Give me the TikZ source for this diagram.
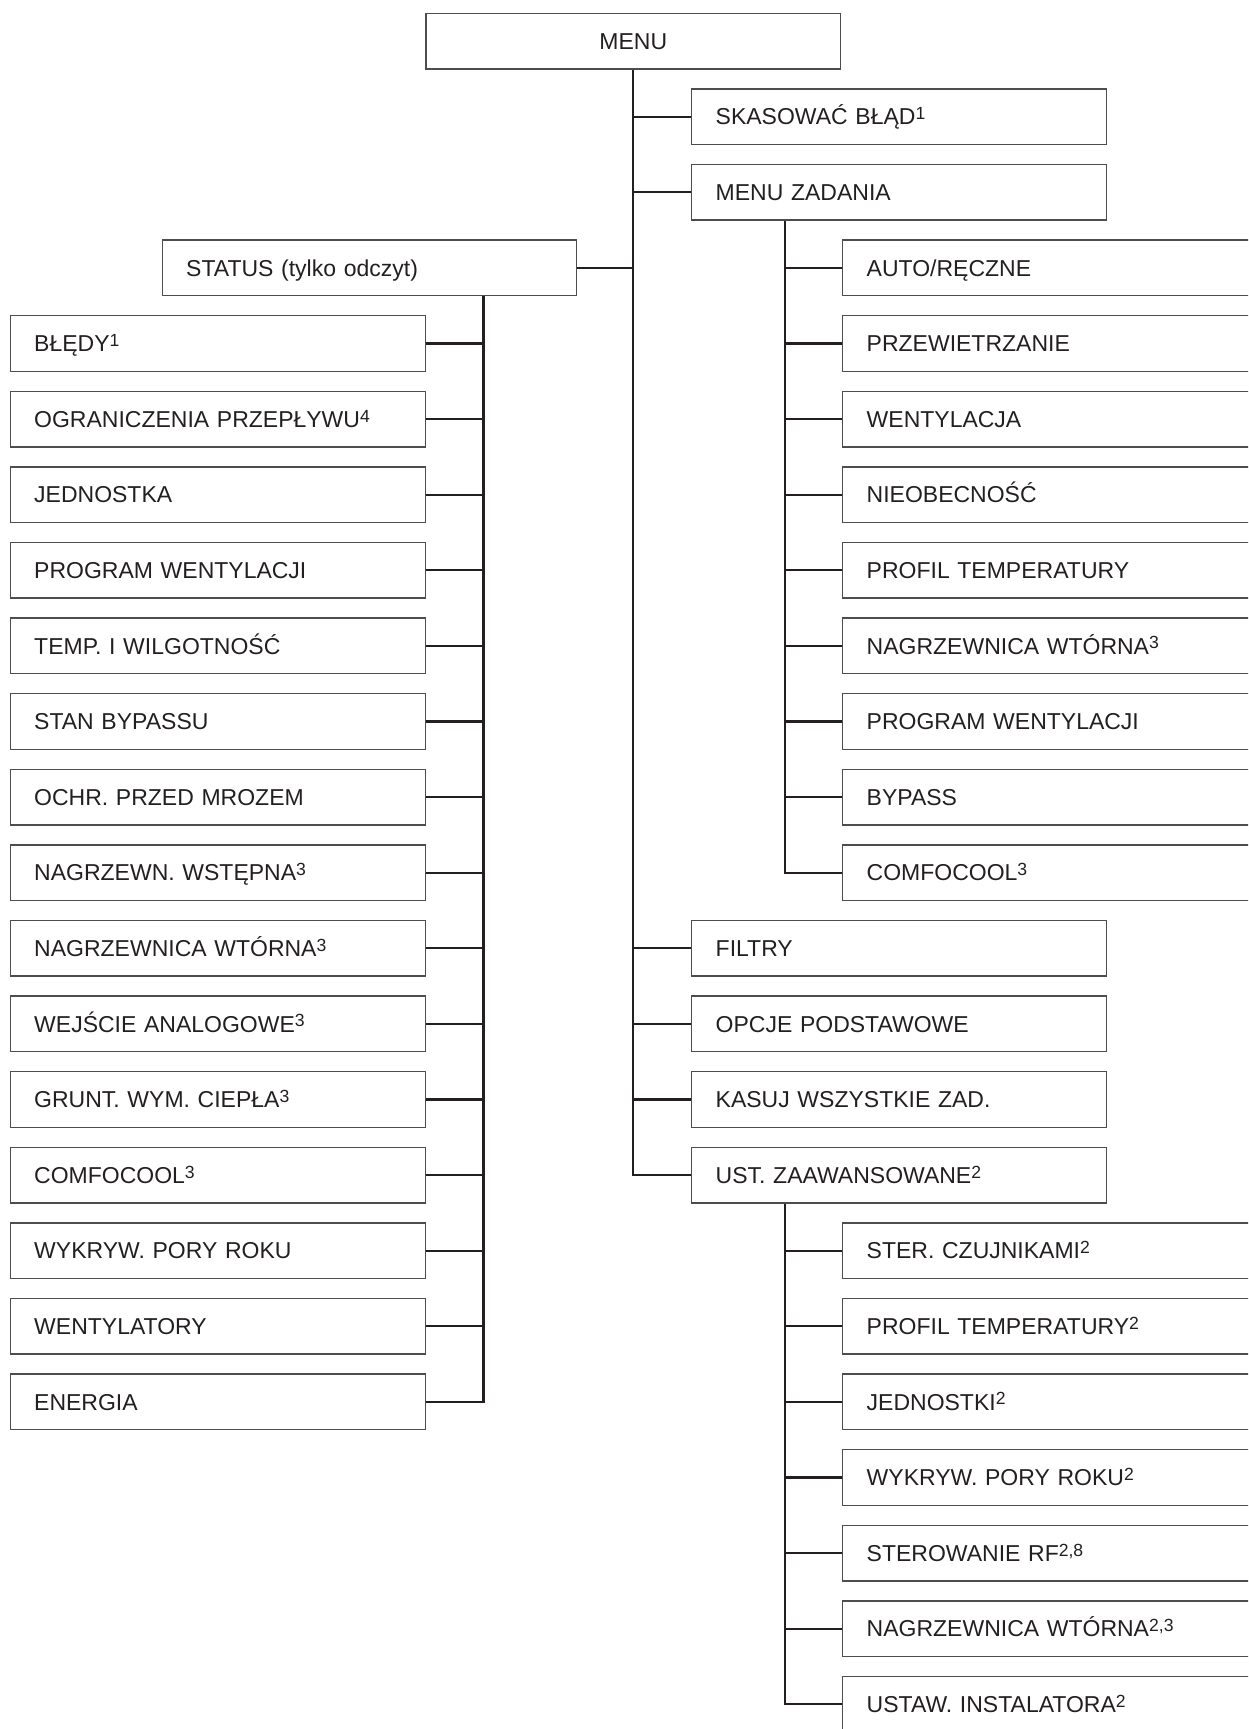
\documentclass[tikz,border=0pt]{standalone}
\usepackage{fontspec}
\setmainfont{Liberation Sans}
\definecolor{boxline}{HTML}{4D4D4F}
\definecolor{ink}{HTML}{231F20}
\newcommand{\fnote}[1]{\raisebox{2.6pt}{\fontsize{8.8}{9}\selectfont #1}}
\tikzset{
  item/.style={draw=boxline, line width=0.7pt, anchor=west, inner xsep=12pt, inner ysep=0pt,
    minimum height=27.75pt, text height=8.2pt, text depth=0pt, align=left, text=ink,
    font=\fontsize{11.5}{13}\selectfont},
  lbox/.style={item, text width=183.75pt},
  rbox/.style={item, text width=183.25pt},
  sbox/.style={item, text width=190pt},
  mbox/.style={item, anchor=center, align=center, text width=183.25pt},
  link/.style={draw=ink, line width=1.1pt}
}
\begin{document}
\begin{tikzpicture}[x=0.5pt,y=-0.5pt]
\useasboundingbox (0,0) rectangle (1248,1729);
\clip (0,0) rectangle (1248,1729);

\draw (633.25,41.1) node[mbox] (menu) {MENU};
\draw (691,116.7) node[rbox] (reset) {SKASOWAĆ BŁĄD\fnote{1}};
\draw (691,192.3) node[rbox] (zad) {MENU ZADANIA};
\draw (161.5,267.9) node[rbox] (status) {STATUS (tylko odczyt)};
\draw (691,948.3) node[rbox] (filtry) {FILTRY};
\draw (691,1023.9) node[rbox] (opcje) {OPCJE PODSTAWOWE};
\draw (691,1099.5) node[rbox] (kasuj) {KASUJ WSZYSTKIE ZAD.};
\draw (691,1175.1) node[rbox] (adv) {UST. ZAAWANSOWANE\fnote{2}};

% status
\draw (9.5,343.5) node[lbox] (bledy) {BŁĘDY\fnote{1}};
\draw (9.5,419.1) node[lbox] (ogran) {OGRANICZENIA PRZEPŁYWU\fnote{4}};
\draw (9.5,494.7) node[lbox] (jedn) {JEDNOSTKA};
\draw (9.5,570.3) node[lbox] (prog) {PROGRAM WENTYLACJI};
\draw (9.5,645.9) node[lbox] (temp) {TEMP. I WILGOTNOŚĆ};
\draw (9.5,721.5) node[lbox] (bypass) {STAN BYPASSU};
\draw (9.5,797.1) node[lbox] (mroz) {OCHR. PRZED MROZEM};
\draw (9.5,872.7) node[lbox] (wstep) {NAGRZEWN. WSTĘPNA\fnote{3}};
\draw (9.5,948.3) node[lbox] (wtor) {NAGRZEWNICA WTÓRNA\fnote{3}};
\draw (9.5,1023.9) node[lbox] (analog) {WEJŚCIE ANALOGOWE\fnote{3}};
\draw (9.5,1099.5) node[lbox] (grunt) {GRUNT. WYM. CIEPŁA\fnote{3}};
\draw (9.5,1175.1) node[lbox] (cool) {COMFOCOOL\fnote{3}};
\draw (9.5,1250.7) node[lbox] (pory) {WYKRYW. PORY ROKU};
\draw (9.5,1326.3) node[lbox] (went) {WENTYLATORY};
\draw (9.5,1401.9) node[lbox] (energia) {ENERGIA};

% menu zadania
\draw (842,267.9) node[sbox] (auto) {AUTO/RĘCZNE};
\draw (842,343.5) node[sbox] (przew) {PRZEWIETRZANIE};
\draw (842,419.1) node[sbox] (went2) {WENTYLACJA};
\draw (842,494.7) node[sbox] (nieob) {NIEOBECNOŚĆ};
\draw (842,570.3) node[sbox] (profil) {PROFIL TEMPERATURY};
\draw (842,645.9) node[sbox] (wtor2) {NAGRZEWNICA WTÓRNA\fnote{3}};
\draw (842,721.5) node[sbox] (prog2) {PROGRAM WENTYLACJI};
\draw (842,797.1) node[sbox] (bypass2) {BYPASS};
\draw (842,872.7) node[sbox] (cool2) {COMFOCOOL\fnote{3}};

% ust. zaawansowane
\draw (842,1250.7) node[sbox] (czuj) {STER. CZUJNIKAMI\fnote{2}};
\draw (842,1326.3) node[sbox] (profil3) {PROFIL TEMPERATURY\fnote{2}};
\draw (842,1401.9) node[sbox] (jedn3) {JEDNOSTKI\fnote{2}};
\draw (842,1477.5) node[sbox] (pory3) {WYKRYW. PORY ROKU\fnote{2}};
\draw (842,1553.1) node[sbox] (rf) {STEROWANIE RF\fnote{2,8}};
\draw (842,1628.7) node[sbox] (wtor3) {NAGRZEWNICA WTÓRNA\fnote{2,3}};
\draw (842,1704.3) node[sbox] (instal) {USTAW. INSTALATORA\fnote{2}};

\coordinate (lt) at ([xshift=-47pt]status.south east);
\coordinate (zt) at ([xshift=47pt]zad.south west);
\coordinate (ut) at ([xshift=47pt]adv.south west);

\draw[link] (menu.south) |- (adv.west);
\draw[link] (reset.west) -- (reset.west -| menu.south);
\draw[link] (zad.west) -- (zad.west -| menu.south);
\draw[link] (status.east) -- (status.east -| menu.south);
\draw[link] (filtry.west) -- (filtry.west -| menu.south);
\draw[link] (opcje.west) -- (opcje.west -| menu.south);
\draw[link] (kasuj.west) -- (kasuj.west -| menu.south);

\draw[link] (lt) |- (energia.east);
\draw[link] (bledy.east) -- (bledy.east -| lt);
\draw[link] (ogran.east) -- (ogran.east -| lt);
\draw[link] (jedn.east) -- (jedn.east -| lt);
\draw[link] (prog.east) -- (prog.east -| lt);
\draw[link] (temp.east) -- (temp.east -| lt);
\draw[link] (bypass.east) -- (bypass.east -| lt);
\draw[link] (mroz.east) -- (mroz.east -| lt);
\draw[link] (wstep.east) -- (wstep.east -| lt);
\draw[link] (wtor.east) -- (wtor.east -| lt);
\draw[link] (analog.east) -- (analog.east -| lt);
\draw[link] (grunt.east) -- (grunt.east -| lt);
\draw[link] (cool.east) -- (cool.east -| lt);
\draw[link] (pory.east) -- (pory.east -| lt);
\draw[link] (went.east) -- (went.east -| lt);

\draw[link] (zt) |- (cool2.west);
\draw[link] (auto.west) -- (auto.west -| zt);
\draw[link] (przew.west) -- (przew.west -| zt);
\draw[link] (went2.west) -- (went2.west -| zt);
\draw[link] (nieob.west) -- (nieob.west -| zt);
\draw[link] (profil.west) -- (profil.west -| zt);
\draw[link] (wtor2.west) -- (wtor2.west -| zt);
\draw[link] (prog2.west) -- (prog2.west -| zt);
\draw[link] (bypass2.west) -- (bypass2.west -| zt);

\draw[link] (ut) |- (instal.west);
\draw[link] (czuj.west) -- (czuj.west -| ut);
\draw[link] (profil3.west) -- (profil3.west -| ut);
\draw[link] (jedn3.west) -- (jedn3.west -| ut);
\draw[link] (pory3.west) -- (pory3.west -| ut);
\draw[link] (rf.west) -- (rf.west -| ut);
\draw[link] (wtor3.west) -- (wtor3.west -| ut);
\end{tikzpicture}
\end{document}
